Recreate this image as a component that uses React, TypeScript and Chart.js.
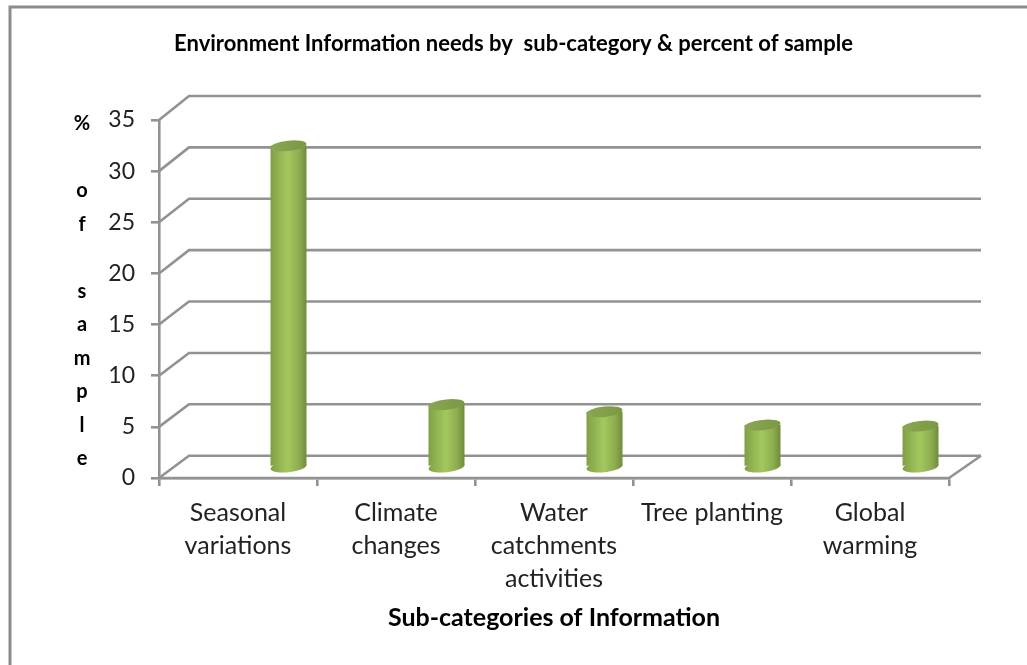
import React, { useEffect, useRef } from "react";
import { Chart, registerables } from "chart.js";

Chart.register(...registerables);

const categories = [
  ["Seasonal", "variations"],
  ["Climate", "changes"],
  ["Water", "catchments", "activities"],
  ["Tree planting"],
  ["Global", "warming"],
];
const percentOfSample = [31.4, 6.1, 5.4, 4.1, 4.0];
const yAxisLetters = ["%", "", "o", "f", "", "s", "a", "m", "p", "l", "e"];
const titleText = "Environment Information needs by  sub-category & percent of sample";
const xAxisTitle = "Sub-categories of Information";

const FONT = "Lato, Carlito, sans-serif";
const AXIS = "#929292";
const DEPTH_X = 31;
const BAR_SHIFT_X = 50.5;
const BAR_SHIFT_Y = -11;
const BAR_W = 36;

// The rear wall sits slightly further back towards the top of the axis
const depthY = (value: number) => 22.3 + (1.7 * value) / 35;

function bodyGradient(ctx: CanvasRenderingContext2D, cx: number) {
  if (!Number.isFinite(cx)) return "#a4c85f";
  const g = ctx.createLinearGradient(cx - BAR_W / 2, 0, cx + BAR_W / 2, 0);
  g.addColorStop(0, "#7f9f45");
  g.addColorStop(0.12, "#8aaa4c");
  g.addColorStop(0.48, "#a4c85f");
  g.addColorStop(0.8, "#8dac50");
  g.addColorStop(1, "#6f8c3b");
  return g;
}

function ellipse(ctx: CanvasRenderingContext2D, cx: number, cy: number) {
  ctx.beginPath();
  ctx.ellipse(cx, cy, BAR_W / 2, 5.2, (-6 * Math.PI) / 180, 0, Math.PI * 2);
  ctx.fill();
}

const wallsAndFrame = {
  id: "wallsAndFrame",
  beforeDraw(chart: any) {
    const { ctx } = chart;
    ctx.save();
    ctx.strokeStyle = "#8c8c8c";
    ctx.lineWidth = 3;
    ctx.beginPath();
    ctx.moveTo(10, chart.height);
    ctx.lineTo(10, 7);
    ctx.lineTo(chart.width, 7);
    ctx.stroke();
    ctx.restore();
  },
  beforeDatasetsDraw(chart: any) {
    const { ctx, scales, chartArea } = chart;
    const y = scales.y;
    ctx.save();
    ctx.strokeStyle = AXIS;
    ctx.lineWidth = 2.6;
    y.ticks.forEach((t: any) => {
      const py = y.getPixelForValue(t.value);
      const back = py - depthY(t.value);
      ctx.beginPath();
      ctx.moveTo(chartArea.left, py);
      ctx.lineTo(chartArea.left + DEPTH_X - 1, back);
      ctx.lineTo(chartArea.right + DEPTH_X + 1, back);
      ctx.stroke();
    });
    // Floor: front edge and right-hand edge
    const floor = y.getPixelForValue(0);
    ctx.beginPath();
    ctx.moveTo(chartArea.left, floor);
    ctx.lineTo(chartArea.right, floor);
    ctx.lineTo(chartArea.right + DEPTH_X + 1, floor - depthY(0));
    ctx.stroke();

    // Lower caps of the cylinders sit beneath the shifted bars
    const x = scales.x;
    percentOfSample.forEach((_, i) => {
      const cx = x.getPixelForValue(i) + BAR_SHIFT_X;
      ctx.fillStyle = bodyGradient(ctx, cx);
      ellipse(ctx, cx, floor + BAR_SHIFT_Y);
    });
    ctx.restore();

    ctx.save();
    ctx.translate(BAR_SHIFT_X, BAR_SHIFT_Y);
  },
  afterDatasetsDraw(chart: any) {
    const { ctx, scales } = chart;
    ctx.restore();
    ctx.save();
    percentOfSample.forEach((v, i) => {
      const cx = scales.x.getPixelForValue(i) + BAR_SHIFT_X;
      const cy = scales.y.getPixelForValue(v) + BAR_SHIFT_Y;
      const g = ctx.createLinearGradient(cx - BAR_W / 2, 0, cx + BAR_W / 2, 0);
      g.addColorStop(0, "#8aa652");
      g.addColorStop(1, "#7a9845");
      ctx.fillStyle = g;
      ellipse(ctx, cx, cy);
    });
    ctx.restore();
  },
  afterDraw(chart: any) {
    const { ctx, scales } = chart;
    ctx.save();
    ctx.fillStyle = "#000";
    ctx.font = `bold 20px ${FONT}`;
    ctx.textAlign = "center";
    ctx.textBaseline = "middle";
    const top = scales.y.getPixelForValue(35) + 4;
    yAxisLetters.forEach((ch, i) => {
      ctx.fillText(ch, 82, top + i * 33.5);
    });
    ctx.restore();
  },
};

export default function App() {
  const ref = useRef<HTMLCanvasElement | null>(null);

  useEffect(() => {
    const chart = new Chart(ref.current as HTMLCanvasElement, {
      type: "bar",
      data: {
        labels: categories as any,
        datasets: [
          {
            data: percentOfSample,
            barPercentage: BAR_W / 158,
            categoryPercentage: 1,
            borderWidth: 0,
            backgroundColor: (c: any) =>
              bodyGradient(c.chart.ctx, c.chart.scales.x?.getPixelForValue(c.dataIndex)),
            clip: false,
          } as any,
        ],
      },
      options: {
        responsive: false,
        animation: false,
        layout: { padding: 0 },
        plugins: {
          legend: { display: false },
          tooltip: { enabled: false },
          title: {
            display: true,
            text: titleText,
            color: "#000",
            font: { family: FONT, size: 22, weight: "bold", lineHeight: 1.2 },
            padding: { top: 30.5, bottom: 63.1 },
          },
        },
        scales: {
          x: {
            afterFit: (s: any) => {
              s.height = 187;
            },
            grid: {
              drawOnChartArea: false,
              drawTicks: true,
              tickLength: 8,
              color: AXIS,
              lineWidth: 2.6,
            },
            border: { display: true, color: AXIS, width: 2.6 },
            ticks: {
              autoSkip: false,
              maxRotation: 0,
              minRotation: 0,
              padding: 10,
              color: "#222",
              font: { family: FONT, size: 25, lineHeight: 1.32 },
            },
            title: {
              display: true,
              text: xAxisTitle,
              color: "#000",
              font: { family: FONT, size: 25, weight: "bold", lineHeight: 1.2 },
              padding: { top: 0, bottom: 32 },
            },
          },
          y: {
            min: 0,
            max: 35,
            afterFit: (s: any) => {
              s.width = 159;
            },
            grid: {
              drawOnChartArea: false,
              drawTicks: true,
              tickLength: 8,
              color: AXIS,
              lineWidth: 2.6,
            },
            border: { display: true, color: AXIS, width: 2.6 },
            ticks: {
              stepSize: 5,
              padding: 16,
              color: "#222",
              font: { family: FONT, size: 23 },
            },
          },
          // Empty right-hand gutter that leaves room for the receding floor
          gutter: {
            type: "linear",
            position: "right",
            afterFit: (s: any) => {
              s.width = 78;
            },
            grid: { display: false },
            border: { display: false },
            ticks: { display: false },
          },
        },
      } as any,
      plugins: [wallsAndFrame],
    });
    return () => chart.destroy();
  }, []);

  return (
    <div style={{ position: "absolute", left: 0, top: 0, width: 1027, height: 665, background: "#fff" }}>
      <canvas ref={ref} width={1027} height={665} style={{ display: "block" }} />
    </div>
  );
}
